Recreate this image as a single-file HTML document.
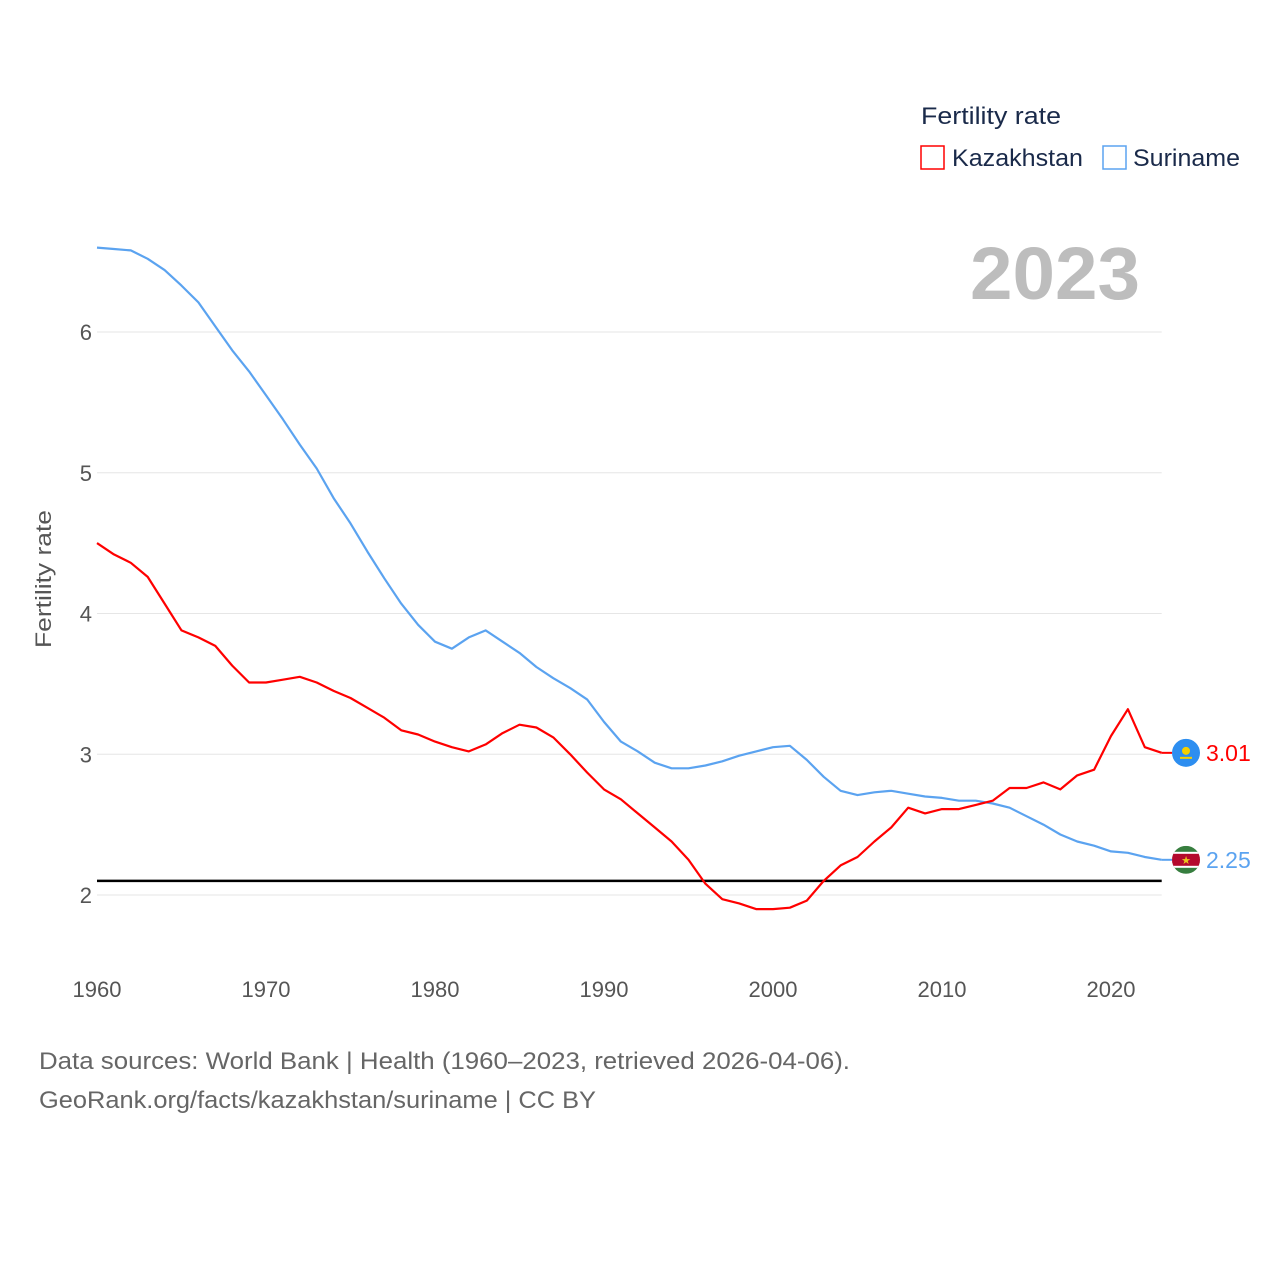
<!DOCTYPE html>
<html><head><meta charset="utf-8"><style>
body{margin:0;background:#fff;width:1280px;height:1280px;overflow:hidden;font-family:"Liberation Sans",sans-serif}
svg text{font-family:"Liberation Sans",sans-serif}
</style></head><body>
<svg id="chart" width="1280" height="1280" xmlns="http://www.w3.org/2000/svg">
<g id="grid"></g>
<g id="yticks"></g>
<g id="xticks"></g>
<text transform="translate(51,579) rotate(-90)" text-anchor="middle" font-size="22" fill="#555" textLength="138" lengthAdjust="spacingAndGlyphs">Fertility rate</text>
<text x="1140" y="299" text-anchor="end" font-size="74" font-weight="bold" fill="#bdbdbd" textLength="170" lengthAdjust="spacingAndGlyphs">2023</text>
<g id="series"></g>
<g>
<text x="921" y="124" font-size="24" fill="#1a2a4a" textLength="140" lengthAdjust="spacingAndGlyphs">Fertility rate</text>
<rect x="921" y="146" width="23" height="23" fill="#fff" stroke="#f00" stroke-width="1.5"/>
<text x="952" y="166" font-size="24" fill="#1a2a4a" textLength="131" lengthAdjust="spacingAndGlyphs">Kazakhstan</text>
<rect x="1103" y="146" width="23" height="23" fill="#fff" stroke="#5ba3f0" stroke-width="1.5"/>
<text x="1133" y="166" font-size="24" fill="#1a2a4a" textLength="107" lengthAdjust="spacingAndGlyphs">Suriname</text>
</g>
<text x="39" y="1069" font-size="24" fill="#666" textLength="811" lengthAdjust="spacingAndGlyphs">Data sources: World Bank | Health (1960–2023, retrieved 2026-04-06).</text>
<text x="39" y="1108" font-size="24" fill="#666" textLength="557" lengthAdjust="spacingAndGlyphs">GeoRank.org/facts/kazakhstan/suriname | CC BY</text>
</svg>
<script>
const years=[];for(let y=1960;y<=2023;y++)years.push(y);
const kazakhstan=[4.50,4.42,4.36,4.26,4.07,3.88,3.83,3.77,3.63,3.51,3.51,3.53,3.55,3.51,3.45,3.40,3.33,3.26,3.17,3.14,3.09,3.05,3.02,3.07,3.15,3.21,3.19,3.12,3.00,2.87,2.75,2.68,2.58,2.48,2.38,2.25,2.08,1.97,1.94,1.90,1.90,1.91,1.96,2.10,2.21,2.27,2.38,2.48,2.62,2.58,2.61,2.61,2.64,2.67,2.76,2.76,2.80,2.75,2.85,2.89,3.13,3.32,3.05,3.01];
const suriname=[6.60,6.59,6.58,6.52,6.44,6.33,6.21,6.04,5.87,5.72,5.55,5.38,5.20,5.03,4.82,4.64,4.44,4.25,4.07,3.92,3.80,3.75,3.83,3.88,3.80,3.72,3.62,3.54,3.47,3.39,3.23,3.09,3.02,2.94,2.90,2.90,2.92,2.95,2.99,3.02,3.05,3.06,2.96,2.84,2.74,2.71,2.73,2.74,2.72,2.70,2.69,2.67,2.67,2.65,2.62,2.56,2.50,2.43,2.38,2.35,2.31,2.30,2.27,2.25];
const yTicks=[2,3,4,5,6];
const xTicks=[1960,1970,1980,1990,2000,2010,2020];
const replacementRate=[2.1];
const X=y=>97+(y-1960)*(1111-97)/60;
const Y=v=>895-(v-2)*(895-332)/4;
const NS="http://www.w3.org/2000/svg";
function mk(tag,attrs,parent){const e=document.createElementNS(NS,tag);for(const k in attrs)e.setAttribute(k,attrs[k]);document.getElementById(parent).appendChild(e);return e;}
const x0=X(1960),x1=X(2023);
yTicks.forEach(t=>{
 const l=mk('line',{x1:x0,x2:x1,y1:Y(t),y2:Y(t),stroke:'#e6e6e6','stroke-width':1},'grid');
 
 
 const tx=mk('text',{x:92,y:Y(t)+8,'text-anchor':'end','font-size':22,fill:'#555'},'yticks');
 tx.textContent=t;
 
 
});
xTicks.forEach(t=>{
 const tx=mk('text',{x:X(t),y:997,'text-anchor':'middle','font-size':22,fill:'#555'},'xticks');
 tx.textContent=t;
 
 
});
const ref=mk('line',{x1:x0,x2:x1,y1:Y(replacementRate[0]),y2:Y(replacementRate[0]),stroke:'#000','stroke-width':2.5},'series');


function line(vals,color,name){
 const d=vals.map((v,i)=>(i?'L':'M')+X(years[i]).toFixed(1)+','+Y(v).toFixed(1)).join('');
 const p=mk('path',{d:d,fill:'none',stroke:color,'stroke-width':2.2,'stroke-linejoin':'round'},'series');
 
 
}
line(suriname,'#5ba3f0','line-suriname');
line(kazakhstan,'#f00','line-kazakhstan');
function endMarker(vals,color,name,flag){
 const v=vals[vals.length-1],yy=Y(v),cx=1186;
 const g=mk('g',{},'series');
 
 
 const c1=document.createElementNS(NS,'line');
 c1.setAttribute('x1',x1);c1.setAttribute('x2',cx-14);c1.setAttribute('y1',yy);c1.setAttribute('y2',yy);c1.setAttribute('stroke',color);c1.setAttribute('stroke-width',2);
 g.appendChild(c1);
 if(flag==='kz'){
  const c=document.createElementNS(NS,'circle');c.setAttribute('cx',cx);c.setAttribute('cy',yy);c.setAttribute('r',14);c.setAttribute('fill','#2d8ef0');g.appendChild(c);
  const s=document.createElementNS(NS,'circle');s.setAttribute('cx',cx);s.setAttribute('cy',yy-2);s.setAttribute('r',4);s.setAttribute('fill','#f5d000');g.appendChild(s);
  const b=document.createElementNS(NS,'rect');b.setAttribute('x',cx-6);b.setAttribute('y',yy+4);b.setAttribute('width',12);b.setAttribute('height',2);b.setAttribute('fill','#f5d000');g.appendChild(b);
 } else {
  const cp=document.createElementNS(NS,'clipPath');cp.setAttribute('id','sr');
  const cc=document.createElementNS(NS,'circle');cc.setAttribute('cx',cx);cc.setAttribute('cy',yy);cc.setAttribute('r',14);cp.appendChild(cc);g.appendChild(cp);
  const gg=document.createElementNS(NS,'g');gg.setAttribute('clip-path','url(#sr)');g.appendChild(gg);
  [['#377e3f',-14,28],['#fff',-8,16],['#b40a2d',-6,12]].forEach(a=>{const r=document.createElementNS(NS,'rect');r.setAttribute('x',cx-14);r.setAttribute('y',yy+a[1]);r.setAttribute('width',28);r.setAttribute('height',a[2]);r.setAttribute('fill',a[0]);gg.appendChild(r);});
  const st=document.createElementNS(NS,'text');st.setAttribute('x',cx);st.setAttribute('y',yy+4);st.setAttribute('text-anchor','middle');st.setAttribute('font-size',11);st.setAttribute('fill','#ecc81d');st.textContent='★';gg.appendChild(st);
 }
 const t=document.createElementNS(NS,'text');t.setAttribute('x',1206);t.setAttribute('y',yy+8);t.setAttribute('font-size',23);t.setAttribute('fill',color);t.textContent=v.toFixed(2);g.appendChild(t);
}
endMarker(kazakhstan,'#f00','kazakhstan','kz');
endMarker(suriname,'#5ba3f0','suriname','sr');
</script>
</body></html>
